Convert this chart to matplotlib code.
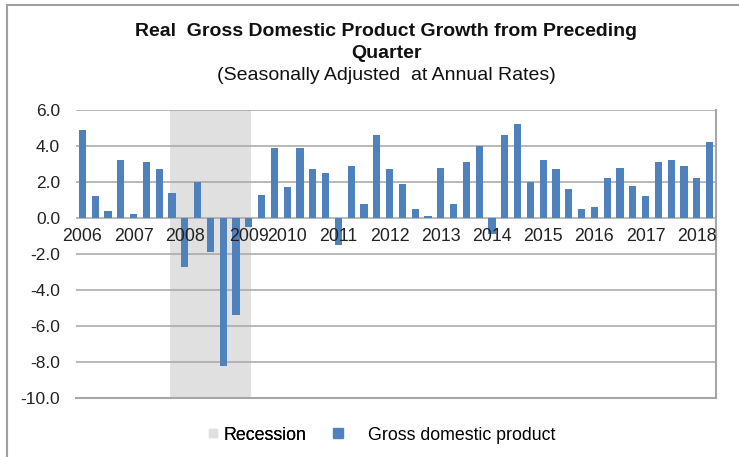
import matplotlib
matplotlib.use("Agg")
import matplotlib.pyplot as plt
from matplotlib.lines import Line2D
from matplotlib.patches import Rectangle
import numpy as np

plt.rcParams['font.family'] = ['Liberation Sans', 'DejaVu Sans']

# ---- data ----
years = ["2006", "2007", "2008", "2009", "2010", "2011", "2012",
         "2013", "2014", "2015", "2016", "2017", "2018"]
quarters = [f"{y}Q{q}" for y in years for q in range(1, 5)][:50]
gdp = [4.9, 1.2, 0.4, 3.2,
       0.2, 3.1, 2.7, 1.4,
       -2.7, 2.0, -1.9, -8.2,
       -5.4, -0.5, 1.3, 3.9,
       1.7, 3.9, 2.7, 2.5,
       -1.5, 2.9, 0.8, 4.6,
       2.7, 1.9, 0.5, 0.1,
       2.8, 0.8, 3.1, 4.0,
       -0.9, 4.6, 5.2, 2.0,
       3.2, 2.7, 1.6, 0.5,
       0.6, 2.2, 2.8, 1.8,
       1.2, 3.1, 3.2, 2.9,
       2.2, 4.2]
recession_start = "2007Q4"
recession_end = "2009Q2"
yticks = [6.0, 4.0, 2.0, 0.0, -2.0, -4.0, -6.0, -8.0, -10.0]

BLUE = "#4F81BD"
SHADE = "#E0E0E0"
GRID = "#A6A6A6"

fig = plt.figure(figsize=(7.39, 4.57), dpi=100)
ax = fig.add_axes([76/739, 1-398/457, (716-76)/739, (398-110)/457])

x = np.arange(len(gdp))
i0 = quarters.index(recession_start)
i1 = quarters.index(recession_end)
ax.axvspan(i0 - 0.17, i1 + 0.19, color=SHADE, zorder=0, lw=0)
ax.bar(x, gdp, width=0.57, color=BLUE, zorder=3)

ax.set_xlim(-0.5, len(gdp) - 0.5)
ax.set_ylim(-10, 6)
ax.set_yticks(yticks)
ax.set_yticklabels([f"{v:.1f}" for v in yticks], fontsize=12.5, color="#222222")
ax.tick_params(axis='y', length=0, pad=11.5)
ax.set_xticks([])
for v in yticks:
    ax.axhline(v, color=GRID, lw=1.1, zorder=1)

for s in ["left", "top"]:
    ax.spines[s].set_visible(False)
ax.spines["right"].set_color(GRID)
ax.spines["right"].set_linewidth(1.5)
ax.spines["bottom"].set_color(GRID)
ax.spines["bottom"].set_linewidth(1.5)

# year labels next to the zero line
for k, yr in enumerate(years):
    idx = quarters.index(yr + "Q1")
    dx = 9 if yr == "2009" else 0
    ax.annotate(yr, (idx, 0), xytext=(dx, -7.5), textcoords="offset points",
                ha="center", va="top", fontsize=12.8, color="#222222", zorder=4)

# titles
fig.text(386/739, 1-31.5/457, "Real  Gross Domestic Product Growth from Preceding",
         ha="center", va="center", fontsize=14, fontweight="bold", color="#111111")
fig.text(386/739, 1-53.5/457, "Quarter", ha="center", va="center",
         fontsize=14, fontweight="bold", color="#111111")
fig.text(386/739, 1-76/457, "(Seasonally Adjusted  at Annual Rates)",
         ha="center", va="center", fontsize=14, color="#111111")

# legend
h1 = Line2D([], [], marker="s", ls="none", color=SHADE, markersize=6)
h2 = Line2D([], [], marker="s", ls="none", color=BLUE, markersize=7)
leg1 = fig.legend([h1], ["Recession"], loc="center left",
                  bbox_to_anchor=(188/739, 1-435/457), frameon=False,
                  fontsize=12.8, handletextpad=0.1, handlelength=1.0)
fig.add_artist(leg1)
leg2 = fig.legend([h2], ["Gross domestic product"], loc="center left",
                  bbox_to_anchor=(313/739, 1-435/457), frameon=False,
                  fontsize=12.8, handletextpad=1.2, handlelength=1.0)

# outer frame
fig.add_artist(Rectangle((7/739, -0.02), 1.02, 1 - 5/457 + 0.02,
                         transform=fig.transFigure, fill=False,
                         edgecolor="#A0A0A0", lw=1.5))

fig.savefig("out.png", dpi=100)
